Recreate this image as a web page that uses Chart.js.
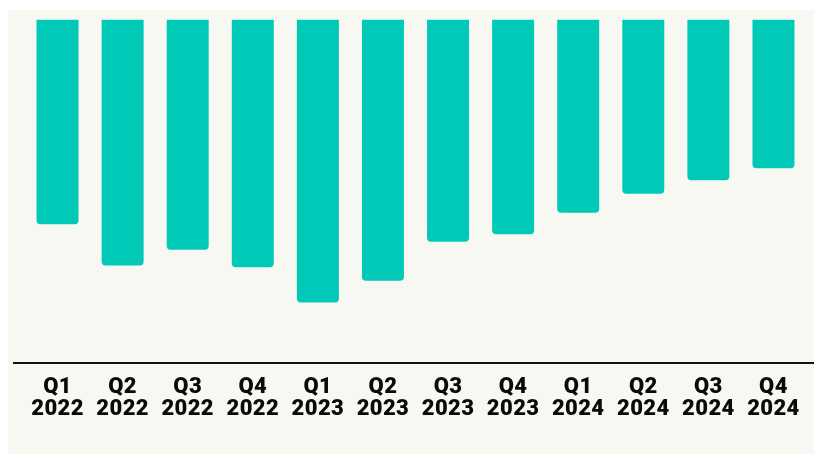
<!DOCTYPE html>
<html>
<head>
<meta charset="utf-8">
<script src="https://cdn.jsdelivr.net/npm/chart.js@4/dist/chart.umd.min.js"></script>
<style>
  html, body { margin: 0; padding: 0; background: #ffffff; }
  #wrap { position: absolute; left: 8px; top: 10px; width: 806px; height: 444px; background: #f8f8f3; }
  canvas { display: block; }
</style>
</head>
<body>
<div id="wrap"><canvas id="c" width="806" height="444"></canvas></div>
<script>
const quarters = ["Q1", "Q2", "Q3", "Q4", "Q1", "Q2", "Q3", "Q4", "Q1", "Q2", "Q3", "Q4"];
const years = ["2022", "2022", "2022", "2022", "2023", "2023", "2023", "2023", "2024", "2024", "2024", "2024"];
const values = [-59.8, -71.8, -67.2, -72.3, -82.6, -76.3, -64.9, -62.7, -56.4, -50.9, -46.9, -43.4];
const yMin = -100;
const yMax = 0;

const labels = quarters.map((q, i) => [q, years[i]]);

const axisLinePlugin = {
  id: 'axisLine',
  beforeInit(chart) { chart.ctx.letterSpacing = '0.4px'; },
  beforeDraw(chart) { chart.ctx.letterSpacing = '0.4px'; },
  afterDatasetsDraw(chart) {
    const ctx = chart.ctx;
    const y = chart.chartArea.bottom + 1;
    ctx.save();
    ctx.strokeStyle = '#111111';
    ctx.lineWidth = 2;
    ctx.beginPath();
    ctx.moveTo(5, y);
    ctx.lineTo(chart.width, y);
    ctx.stroke();
    ctx.restore();
  }
};

new Chart(document.getElementById('c'), {
  type: 'bar',
  data: {
    labels: labels,
    datasets: [{
      data: values,
      backgroundColor: '#00c9b7',
      borderRadius: 4,
      borderSkipped: 'start',
      categoryPercentage: 1,
      barPercentage: 0.645
    }]
  },
  options: {
    responsive: false,
    animation: false,
    layout: { padding: { left: 17, right: 8, top: 9.5, bottom: 0 } },
    plugins: { legend: { display: false }, tooltip: { enabled: false } },
    scales: {
      x: {
        grid: { display: false, drawTicks: false },
        border: { display: false },
        ticks: {
          color: '#0a0a0a',
          font: { family: 'Roboto', weight: 900, size: 22, lineHeight: 1.02 },
          padding: 14,
          maxRotation: 0,
          autoSkip: false
        },
        afterFit(scale) { scale.height = 92; }
      },
      y: {
        display: false,
        min: yMin,
        max: yMax
      }
    }
  },
  plugins: [axisLinePlugin]
});
</script>
</body>
</html>
